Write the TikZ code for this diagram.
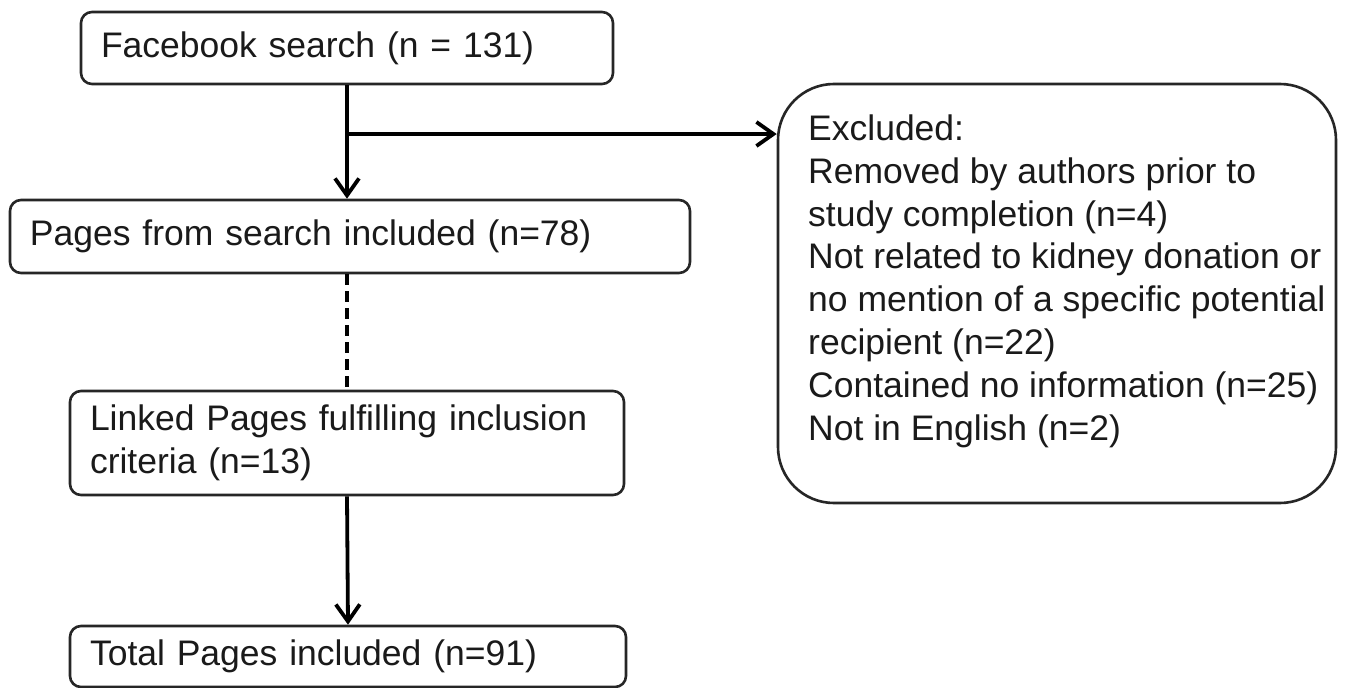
\documentclass[tikz,border=0pt]{standalone}
\usepackage{fontspec}
\setmainfont{Liberation Sans}
\usetikzlibrary{arrows.meta,calc}
\definecolor{edge}{HTML}{262626}
\definecolor{ink}{HTML}{1A1A1A}
\tikzset{
  x=1pt, y=-1pt,
  txt/.style={font=\fontsize{35.5pt}{42.8pt}\selectfont, text=ink},
  flowbox/.style={draw=edge, line width=2.6pt, rounded corners=11pt, fill=white,
    inner xsep=20pt, inner ysep=0pt, align=left, txt},
  exbox/.style={draw=edge, line width=2.6pt, rounded corners=56pt, fill=white,
    minimum width=558pt, minimum height=419pt, inner sep=0pt},
  conn/.style={draw=black, line width=3.8pt},
  arr/.style={conn, -{Straight Barb[length=17pt,width=24pt,line width=3.8pt]}},
}
\begin{document}
\begin{tikzpicture}
\useasboundingbox (0,0) rectangle (1345,688);
\fill[white] (0,0) rectangle (1345,688);

\node[flowbox, minimum width=532pt, minimum height=72pt, text width=492pt] (fb) at (347,48) {Facebook search (n = 131)};
\node[flowbox, minimum width=680pt, minimum height=73pt, text width=640pt] (pg) at (350,236.5) {Pages from search included (n=78)};
\node[flowbox, minimum width=554pt, minimum height=104pt, text width=514pt] (ln) at (347,443) {Linked Pages fulfilling inclusion\\criteria (n=13)};
\node[flowbox, minimum width=556pt, minimum height=61pt, text width=516pt] (tot) at (348,656.5) {Total Pages included (n=91)};

\node[exbox] (ex) at (1057,293.5) {};
\node[txt, anchor=north west, align=left, inner sep=0pt] (extext) at (808,114.6)
  {Excluded:\\
   Removed by authors prior to\\
   study completion (n=4)\\
   Not related to kidney donation or\\
   no mention of a specific potential\\
   recipient (n=22)\\
   Contained no information (n=25)\\
   Not in English (n=2)};

\coordinate (br) at (347,134);
\draw[arr] (fb.south) -- (fb.south |- pg.north);
\draw[arr] (br) -- (br -| ex.west);
\draw[conn, dash pattern=on 11pt off 6pt] (ln.north |- pg.south) -- (ln.north);
\draw[arr] (ln.south) -- (tot.north);
\end{tikzpicture}
\end{document}
